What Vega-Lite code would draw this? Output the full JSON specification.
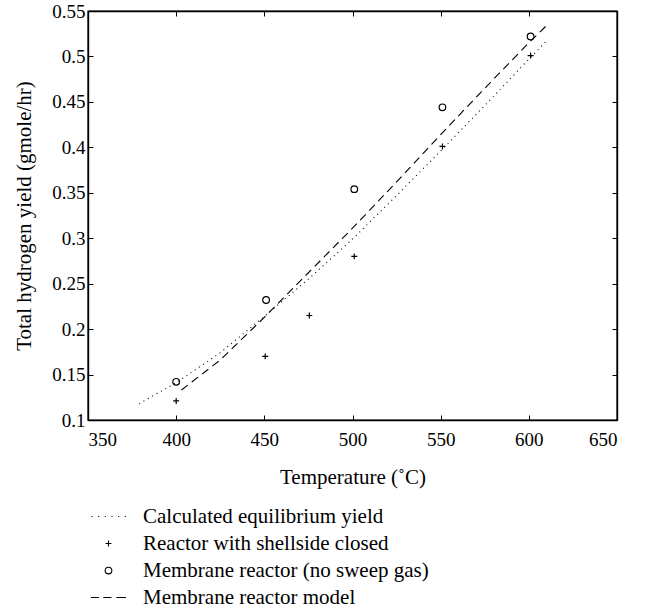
{
  "$schema": "https://vega.github.io/schema/vega-lite/v6.json",
  "width": 529,
  "height": 409,
  "autosize": {"type": "none"},
  "padding": {"left": 88, "top": 11, "right": 28, "bottom": 192},
  "background": "white",
  "config": {
    "font": "Liberation Serif",
    "view": {"stroke": "black", "strokeWidth": 1.4},
    "axis": {
      "grid": false,
      "domainColor": "black",
      "domainWidth": 1.4,
      "tickColor": "black",
      "tickWidth": 1,
      "tickSize": -5,
      "labelFont": "Liberation Serif",
      "labelFontSize": 19,
      "labelColor": "black",
      "labelPadding": 8,
      "titleFont": "Liberation Serif",
      "titleFontSize": 21,
      "titleFontWeight": "normal",
      "titleColor": "black"
    }
  },
  "datasets": {
    "lines": [
      {"series": "Calculated equilibrium yield", "temp": 379, "yield": 0.118},
      {"series": "Calculated equilibrium yield", "temp": 400, "yield": 0.141},
      {"series": "Calculated equilibrium yield", "temp": 425, "yield": 0.174},
      {"series": "Calculated equilibrium yield", "temp": 450, "yield": 0.214},
      {"series": "Calculated equilibrium yield", "temp": 475, "yield": 0.255},
      {"series": "Calculated equilibrium yield", "temp": 500, "yield": 0.299},
      {"series": "Calculated equilibrium yield", "temp": 525, "yield": 0.347},
      {"series": "Calculated equilibrium yield", "temp": 550, "yield": 0.396},
      {"series": "Calculated equilibrium yield", "temp": 575, "yield": 0.446},
      {"series": "Calculated equilibrium yield", "temp": 600, "yield": 0.497},
      {"series": "Calculated equilibrium yield", "temp": 610, "yield": 0.517},
      {"series": "Membrane reactor model", "temp": 403, "yield": 0.133},
      {"series": "Membrane reactor model", "temp": 425, "yield": 0.166},
      {"series": "Membrane reactor model", "temp": 450, "yield": 0.213},
      {"series": "Membrane reactor model", "temp": 475, "yield": 0.262},
      {"series": "Membrane reactor model", "temp": 500, "yield": 0.311},
      {"series": "Membrane reactor model", "temp": 525, "yield": 0.362},
      {"series": "Membrane reactor model", "temp": 550, "yield": 0.414},
      {"series": "Membrane reactor model", "temp": 575, "yield": 0.465},
      {"series": "Membrane reactor model", "temp": 600, "yield": 0.515},
      {"series": "Membrane reactor model", "temp": 609.5, "yield": 0.533}
    ],
    "points": [
      {"series": "Reactor with shellside closed", "temp": 400, "yield": 0.121},
      {"series": "Reactor with shellside closed", "temp": 450.5, "yield": 0.170},
      {"series": "Reactor with shellside closed", "temp": 475.5, "yield": 0.215},
      {"series": "Reactor with shellside closed", "temp": 501, "yield": 0.280},
      {"series": "Reactor with shellside closed", "temp": 551, "yield": 0.401},
      {"series": "Reactor with shellside closed", "temp": 601, "yield": 0.501},
      {"series": "Membrane reactor (no sweep gas)", "temp": 400, "yield": 0.142},
      {"series": "Membrane reactor (no sweep gas)", "temp": 451, "yield": 0.232},
      {"series": "Membrane reactor (no sweep gas)", "temp": 501, "yield": 0.354},
      {"series": "Membrane reactor (no sweep gas)", "temp": 551, "yield": 0.444},
      {"series": "Membrane reactor (no sweep gas)", "temp": 601, "yield": 0.522}
    ]
  },
  "resolve": {"axis": {"x": "independent", "y": "independent"}},
  "layer": [
    {
      "data": {"name": "lines"},
      "mark": {"type": "line", "color": "black", "strokeWidth": 1.1},
      "encoding": {
        "x": {
          "field": "temp", "type": "quantitative",
          "scale": {"domain": [350, 650], "nice": false, "zero": false},
          "axis": {"values": [350, 400, 450, 500, 550, 600, 650], "format": "d", "labelPadding": 15, "title": "Temperature (˚C)", "titlePadding": 17}
        },
        "y": {
          "field": "yield", "type": "quantitative",
          "scale": {"domain": [0.1, 0.55], "nice": false, "zero": false},
          "axis": {"values": [0.1, 0.15, 0.2, 0.25, 0.3, 0.35, 0.4, 0.45, 0.5, 0.55], "format": ".2~f", "title": "Total hydrogen yield (gmole/hr)", "titlePadding": 17}
        },
        "detail": {"field": "series"},
        "strokeDash": {
          "field": "series", "type": "nominal",
          "scale": {"domain": ["Calculated equilibrium yield", "Membrane reactor model"], "range": [[1, 4], [8, 5]]},
          "legend": null
        }
      }
    },
    {
      "data": {"name": "points"},
      "mark": {"type": "point", "filled": false, "color": "black", "size": 1225, "strokeWidth": 1.2, "opacity": 1},
      "encoding": {
        "x": {
          "field": "temp", "type": "quantitative",
          "axis": {"orient": "top", "values": [350, 400, 450, 500, 550, 600, 650], "labels": false, "title": null}
        },
        "y": {
          "field": "yield", "type": "quantitative",
          "axis": {"orient": "right", "values": [0.1, 0.15, 0.2, 0.25, 0.3, 0.35, 0.4, 0.45, 0.5, 0.55], "labels": false, "title": null}
        },
        "shape": {
          "field": "series", "type": "nominal",
          "scale": {
            "domain": ["Calculated equilibrium yield", "Reactor with shellside closed", "Membrane reactor (no sweep gas)", "Membrane reactor model"],
            "range": [
              "M-0.97,0h0.06M-0.59,0h0.06M-0.21,0h0.06M0.17,0h0.06M0.55,0h0.06M0.93,0h0.06",
              "M-0.17,0H0.17M0,-0.17V0.17",
              "M0.19,0A0.19,0.19,0,1,1,-0.19,0A0.19,0.19,0,1,1,0.19,0Z",
              "M-1,0H-0.55M-0.3,0H0.17M0.45,0H1"
            ]
          },
          "legend": {
            "title": null,
            "orient": "none",
            "legendX": 2,
            "legendY": 492,
            "direction": "vertical",
            "symbolSize": 1225,
            "symbolStrokeColor": "black",
            "symbolFillColor": "transparent",
            "symbolStrokeWidth": 1.1,
            "symbolOpacity": 1,
            "labelFont": "Liberation Serif",
            "labelFontSize": 21,
            "labelColor": "black",
            "labelOffset": 16,
            "clipHeight": 27,
            "rowPadding": 0,
            "padding": 0,
            "labelLimit": 500
          }
        }
      }
    }
  ]
}
